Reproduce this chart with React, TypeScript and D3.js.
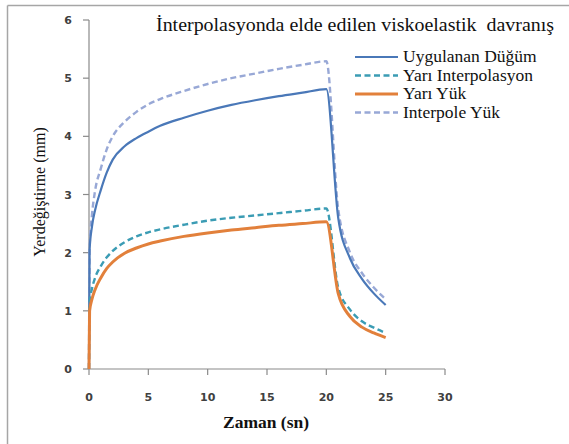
import React from "react";
import * as d3 from "d3";

const times = [0, 0.05, 0.25, 0.5, 1, 1.5, 2, 3, 4, 5, 6, 8, 10, 12, 14, 16, 18, 20, 21, 22, 23, 24, 25];
const uygulananDugum = [0, 2.05, 2.45, 2.72, 3.08, 3.38, 3.6, 3.83, 3.97, 4.08, 4.18, 4.32, 4.44, 4.54, 4.62, 4.69, 4.75, 4.81, 2.6, 1.9, 1.55, 1.3, 1.1];
const yariInterpolasyon = [0, 1.15, 1.38, 1.56, 1.77, 1.92, 2.03, 2.18, 2.28, 2.35, 2.4, 2.48, 2.55, 2.6, 2.64, 2.68, 2.72, 2.76, 1.4, 1.02, 0.82, 0.71, 0.62];
const yariYuk = [0, 1.0, 1.2, 1.36, 1.57, 1.73, 1.84, 1.99, 2.08, 2.15, 2.2, 2.28, 2.34, 2.39, 2.43, 2.47, 2.5, 2.53, 1.3, 0.9, 0.72, 0.62, 0.54];
const interpoleYuk = [0, 2.1, 2.65, 3.05, 3.45, 3.78, 4.0, 4.25, 4.42, 4.55, 4.64, 4.78, 4.9, 5.0, 5.08, 5.16, 5.23, 5.29, 2.75, 2.0, 1.65, 1.4, 1.2];

const xTicks = [0, 5, 10, 15, 20, 25, 30];
const yTicks = [0, 1, 2, 3, 4, 5, 6];

const seriesNames = ["Uygulanan Düğüm", "Yarı Interpolasyon", "Yarı Yük", "Interpole Yük"];
const title = "İnterpolasyonda elde edilen viskoelastik  davranış";
const xTitle = "Zaman (sn)";
const yTitle = "Yerdeğiştirme (mm)";

const W = 569;
const H = 444;

export default function App() {
  const x = d3.scaleLinear().domain([0, 30]).range([89, 445]);
  const y = d3.scaleLinear().domain([0, 6]).range([369, 20]);

  const line = (vals: number[]) =>
    d3
      .line<number>()
      .x((_, i) => x(times[i]))
      .y((v) => y(v))
      .curve(d3.curveMonotoneX)(vals) || "";

  const styles = [
    { data: uygulananDugum, color: "#4a78b8", width: 2.2, dash: undefined },
    { data: yariInterpolasyon, color: "#3b9cb4", width: 2.4, dash: "6,3.5" },
    { data: yariYuk, color: "#e2803b", width: 3, dash: undefined },
    { data: interpoleYuk, color: "#98a8d6", width: 2.4, dash: "6,3.5" },
  ];
  const drawOrder = [3, 0, 1, 2];

  const axisColor = "#8a8a8a";
  const tickFont = "DejaVu Sans, Verdana, sans-serif";
  const serifStyle = { fontFamily: "Liberation Serif, DejaVu Serif, Noto Serif, Tinos, serif", whiteSpace: "pre" as const };

  return (
    <svg
      width={W}
      height={H}
      style={{ position: "absolute", left: 0, top: 0, background: "#fff" }}
    >
      <rect x={0} y={0} width={W} height={H} fill="#fff" />
      <line x1={7.5} y1={5.5} x2={W} y2={5.5} stroke="#a6a6a6" strokeWidth={1.5} />
      <line x1={7.5} y1={5.5} x2={7.5} y2={H} stroke="#a6a6a6" strokeWidth={1.5} />

      {/* axes */}
      <line x1={x(0)} y1={y(0)} x2={x(30)} y2={y(0)} stroke={axisColor} strokeWidth={1.2} />
      <line x1={x(0)} y1={y(0)} x2={x(0)} y2={y(6)} stroke={axisColor} strokeWidth={1.2} />
      {xTicks.map((t) => (
        <g key={"xt" + t}>
          <line x1={x(t)} x2={x(t)} y1={y(0)} y2={y(0) + 6} stroke={axisColor} strokeWidth={1.2} />
          <text
            x={x(t)}
            y={401}
            textAnchor="middle"
            style={{ fontFamily: tickFont }}
            fontSize={11}
            fontWeight="bold"
            fill="#404040"
          >
            {t}
          </text>
        </g>
      ))}
      {yTicks.map((t) => (
        <g key={"yt" + t}>
          <line x1={x(0) - 6} x2={x(0)} y1={y(t)} y2={y(t)} stroke={axisColor} strokeWidth={1.2} />
          <text
            x={72}
            y={y(t) + 4}
            textAnchor="end"
            style={{ fontFamily: tickFont }}
            fontSize={11}
            fontWeight="bold"
            fill="#404040"
          >
            {t}
          </text>
        </g>
      ))}

      {/* series */}
      {drawOrder.map((i) => {
        const s = styles[i];
        return (
          <path
            key={"s" + i}
            d={line(s.data)}
            fill="none"
            stroke={s.color}
            strokeWidth={s.width}
            strokeDasharray={s.dash}
            strokeLinejoin="round"
          />
        );
      })}

      {/* title */}
      <text
        x={156}
        y={31}
        style={serifStyle}
        fontSize={18}
        fill="#111"
        textLength={398}
        lengthAdjust="spacingAndGlyphs"
      >
        {title}
      </text>

      {/* legend */}
      {seriesNames.map((name, i) => {
        const yy = 57 + i * 18.5;
        const s = styles[i];
        return (
          <g key={"lg" + i}>
            <line
              x1={355}
              x2={398}
              y1={yy}
              y2={yy}
              stroke={s.color}
              strokeWidth={s.width}
              strokeDasharray={s.dash}
            />
            <text x={403} y={yy + 5} style={serifStyle} fontSize={17.5} fill="#111">
              {name}
            </text>
          </g>
        );
      })}

      {/* axis titles */}
      <text x={266} y={428} textAnchor="middle" style={serifStyle} fontSize={17.5} fontWeight="bold" fill="#111">
        {xTitle}
      </text>
      <text
        transform={`translate(45,192) rotate(-90)`}
        textAnchor="middle"
        style={serifStyle}
        fontSize={16}
        fill="#111"
      >
        {yTitle}
      </text>
    </svg>
  );
}
